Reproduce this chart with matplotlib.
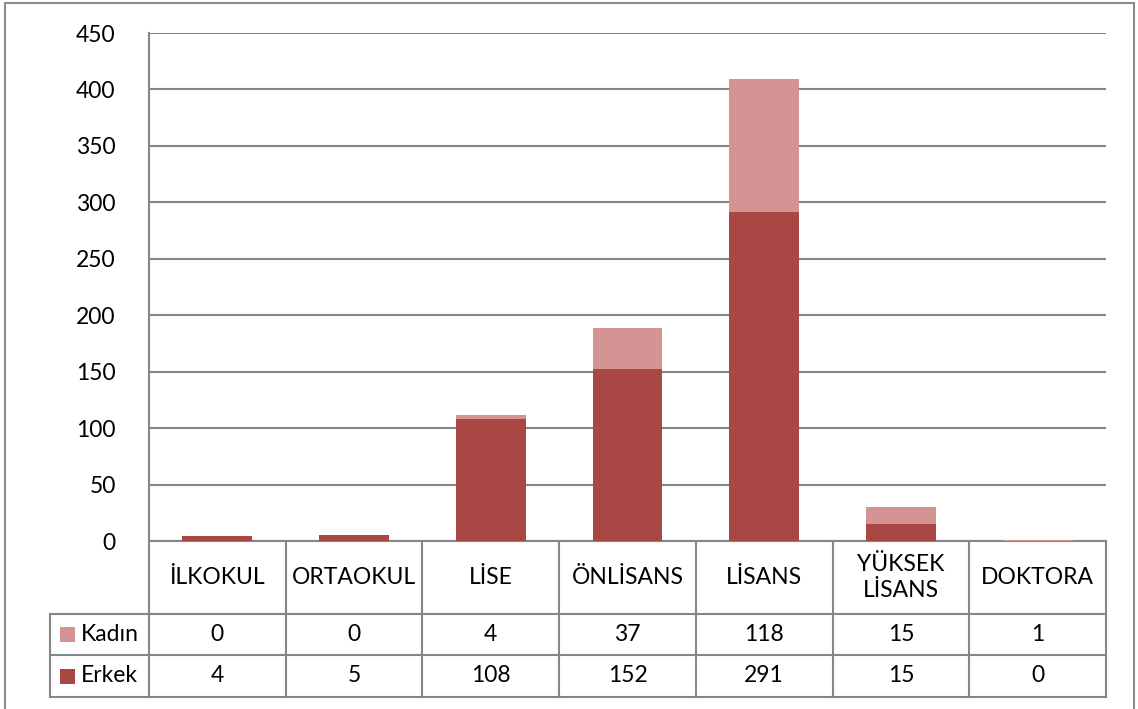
import matplotlib
matplotlib.use("Agg")
import matplotlib.pyplot as plt
import matplotlib.transforms as mtransforms
from matplotlib.patches import Rectangle
import numpy as np

categories = ["İLKOKUL", "ORTAOKUL", "LİSE", "ÖNLİSANS", "LİSANS", "YÜKSEK\nLİSANS", "DOKTORA"]
erkek = [4, 5, 108, 152, 291, 15, 0]
kadin = [0, 0, 4, 37, 118, 15, 1]
series_names = ["Kadın", "Erkek"]
yticks = [0, 50, 100, 150, 200, 250, 300, 350, 400, 450]

c_erkek = "#A94744"
c_kadin = "#D39493"
grid_c = "#868686"

plt.rcParams['font.family'] = ['Lato', 'DejaVu Sans']
FS = 16.5

W, H = 1138, 709
fig = plt.figure(figsize=(W / 100, H / 100), dpi=100)
fig.patch.set_facecolor("white")

# outer chart border (bottom edge lies outside the image, as in the reference)
fig.add_artist(Rectangle((5 / W, -10 / H), (1134 - 5) / W, (706 + 10) / H,
                         transform=fig.transFigure, fill=False,
                         edgecolor="#8c8c8c", linewidth=1.5))

x0, x1, ytop, ybot = 149, 1106, 33, 541
ax = fig.add_axes([x0 / W, 1 - ybot / H, (x1 - x0) / W, (ybot - ytop) / H])

x = np.arange(len(categories))
ax.bar(x, erkek, width=0.51, color=c_erkek, zorder=3)
ax.bar(x, kadin, width=0.51, bottom=erkek, color=c_kadin, zorder=3)

ax.set_xlim(-0.5, len(categories) - 0.5)
ax.set_ylim(0, 450)
ax.set_yticks(yticks)
ax.set_yticklabels([str(v) for v in yticks], fontsize=FS)
ax.tick_params(axis="y", length=0, pad=24)
ax.tick_params(axis="x", length=0, labelbottom=False)
ax.set_xticks([])
ax.yaxis.grid(True, color=grid_c, linewidth=1.5, zorder=0)
for s in ["top", "right", "bottom"]:
    ax.spines[s].set_visible(False)
ax.spines["left"].set_color(grid_c)
ax.spines["left"].set_linewidth(1.5)

# data table below the plot
tr = mtransforms.blended_transform_factory(ax.transData, fig.transFigure)
def fy(py):
    return 1 - py / H

row_y = [541, 614, 655, 697]
leg_left = -0.5 - (x0 - 50) / ((x1 - x0) / len(categories))
n = len(categories)
lw = 1.5
ax.plot([-0.5, n - 0.5], [fy(row_y[0])] * 2, transform=tr, color=grid_c, lw=lw, clip_on=False)
for yy in row_y[1:]:
    ax.plot([leg_left, n - 0.5], [fy(yy)] * 2, transform=tr, color=grid_c, lw=lw, clip_on=False)
for i in range(n + 1):
    ax.plot([i - 0.5] * 2, [fy(row_y[0]), fy(row_y[-1])], transform=tr, color=grid_c, lw=lw, clip_on=False)
ax.plot([leg_left] * 2, [fy(row_y[1]), fy(row_y[-1])], transform=tr, color=grid_c, lw=lw, clip_on=False)

for i, c in enumerate(categories):
    ax.text(i, fy((row_y[0] + row_y[1]) / 2), c, transform=tr, ha="center", va="center",
            fontsize=FS, linespacing=1.35)

rows = [(series_names[0], kadin, c_kadin), (series_names[1], erkek, c_erkek)]
for r, (name, vals, col) in enumerate(rows):
    yc = fy((row_y[r + 1] + row_y[r + 2]) / 2)
    for i, v in enumerate(vals):
        ax.text(i, yc, str(v), transform=tr, ha="center", va="center", fontsize=FS)
    fig.add_artist(Rectangle((60 / W, yc - 7.5 / H), 15 / W, 15 / H,
                             transform=fig.transFigure, facecolor=col, edgecolor="none"))
    fig.text(81 / W, yc, name, ha="left", va="center", fontsize=FS)

fig.savefig("out.png", dpi=100, facecolor="white")
